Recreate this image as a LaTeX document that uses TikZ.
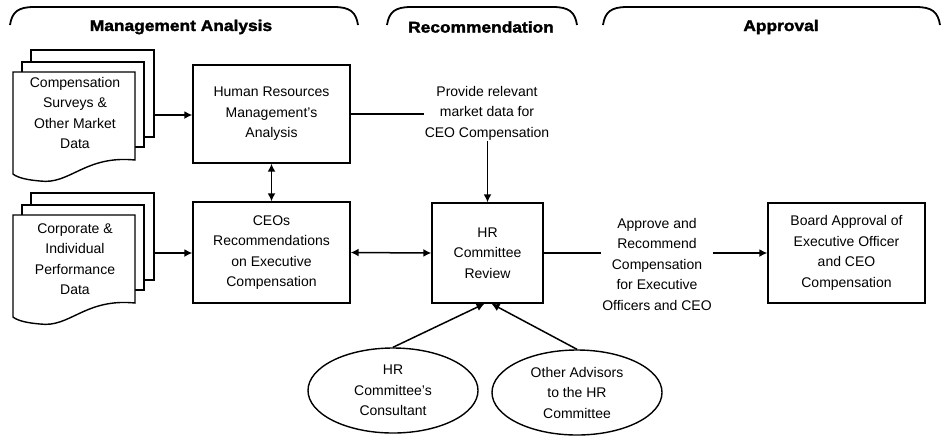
\documentclass[tikz,border=0pt]{standalone}
\usepackage{fontspec}
\setmainfont{Liberation Sans}
\newfontfamily\titlefont[FakeStretch=1.12, FakeBold=2]{Liberation Sans Bold}
\usetikzlibrary{shapes.geometric,arrows.meta}
\begin{document}
\begin{tikzpicture}[x=1pt,y=-1pt,
  every node/.style={font=\fontsize{14}{20.5}\selectfont, align=center},
  box/.style={draw, line width=1.4pt, rectangle, inner sep=0pt},
  oval/.style={draw, line width=1.4pt, ellipse, minimum width=170pt, minimum height=85pt, inner sep=0pt},
  lbl/.style={inner sep=1pt, fill=white},
  ttl/.style={font=\titlefont\fontsize{15.5}{18}\selectfont},
  brk/.style={line width=1.8pt},
  conn/.style={line width=1.5pt},
  arr/.style={conn, -{Latex[length=8pt,width=8pt]}},
  darr/.style={conn, {Latex[length=8pt,width=8pt]}-{Latex[length=8pt,width=8pt]}},
  pg/.style={line width=1.4pt}
]
\useasboundingbox (0,0) rectangle (941,437);

% phase brackets
\draw[brk] (10,25) .. controls (12,12) and (18,7) .. (34,7) -- (334,7) .. controls (350,7) and (356,12) .. (358,25);
\draw[brk] (387,25) .. controls (389,12) and (395,7) .. (411,7) -- (553,7) .. controls (569,7) and (575,12) .. (577,25);
\draw[brk] (603,25) .. controls (605,12) and (611,7) .. (627,7) -- (916,7) .. controls (932,7) and (938,12) .. (940,25);
\node[ttl] (t1) at (181,27) {Management Analysis};
\node[ttl] (t2) at (481,27) {Recommendation};
\node[ttl] (t3) at (781,27) {Approval};

% document stacks
\foreach \dy in {0,143}{
  \draw[pg] (31,{62+\dy}) -- (31,{50+\dy}) -- (154,{50+\dy}) -- (154,{137+\dy}) -- (144,{137+\dy});
  \draw[pg] (22,{72+\dy}) -- (22,{62+\dy}) -- (144,{62+\dy}) -- (144,{147+\dy}) -- (135,{147+\dy});
  \draw[pg, fill=white] (13,{72+\dy}) -- (135,{72+\dy}) -- (135,{160+\dy})
     .. controls (85,{155+\dy}) and (70,{185+\dy}) .. (40,{181+\dy})
     .. controls (28,{180+\dy}) and (18,{178+\dy}) .. (13,{174+\dy}) -- cycle;
}
\node[inner sep=0pt, minimum width=141pt, minimum height=30pt] (doc1) at (83.5,115) {};
\node[inner sep=0pt, minimum width=141pt, minimum height=30pt] (doc2) at (83.5,253) {};
\node (doc1t) at (75,113) {Compensation\\Surveys \&\\Other Market\\Data};
\node (doc2t) at (75,259) {Corporate \&\\Individual\\Performance\\Data};

% boxes
\node[box, minimum width=157pt, minimum height=98pt] (hrm) at (271.5,114) {Human Resources\\Management's\\Analysis};
\node[box, minimum width=157pt, minimum height=101pt] (ceo) at (271.5,252.5) {CEOs\\Recommendations\\on Executive\\Compensation};
\node[box, minimum width=111pt, minimum height=100pt] (hrc) at (487.5,253) {HR\\Committee\\Review};
\node[box, minimum width=157pt, minimum height=100pt] (board) at (846.5,253) {Board Approval of\\Executive Officer\\and CEO\\Compensation};

% labels
\node[lbl] (prov) at (487,113) {Provide relevant\\market data for\\CEO Compensation};
\node[lbl] (appr) at (657,264) {Approve and\\Recommend\\Compensation\\for Executive\\Officers and CEO};

% ellipses
\node[oval] (cons) at (393,390.5) {HR\\Committee's\\Consultant};
\node[oval] (other) at (577,392.5) {Other Advisors\\to the HR\\Committee};

% connectors
\draw[arr] (doc1.east) -- (hrm.west |- doc1.east);
\draw[arr] (doc2.east) -- (ceo.west |- doc2.east);
\draw[darr] (hrm.south) -- (ceo.north);
\draw[darr] (ceo.east) -- (hrc.west);
\draw[conn] (hrm.east) -- (hrm.east -| prov.west);
\draw[arr] (hrc.north |- prov.south) -- (hrc.north);
\draw[conn] (hrc.east) -- (hrc.east -| appr.west);
\draw[arr] (appr.east |- board.west) -- (board.west);
\draw[arr] (cons.north) -- ([xshift=-3pt]hrc.south);
\draw[arr] (other.north) -- ([xshift=4pt]hrc.south);
\end{tikzpicture}
\end{document}
